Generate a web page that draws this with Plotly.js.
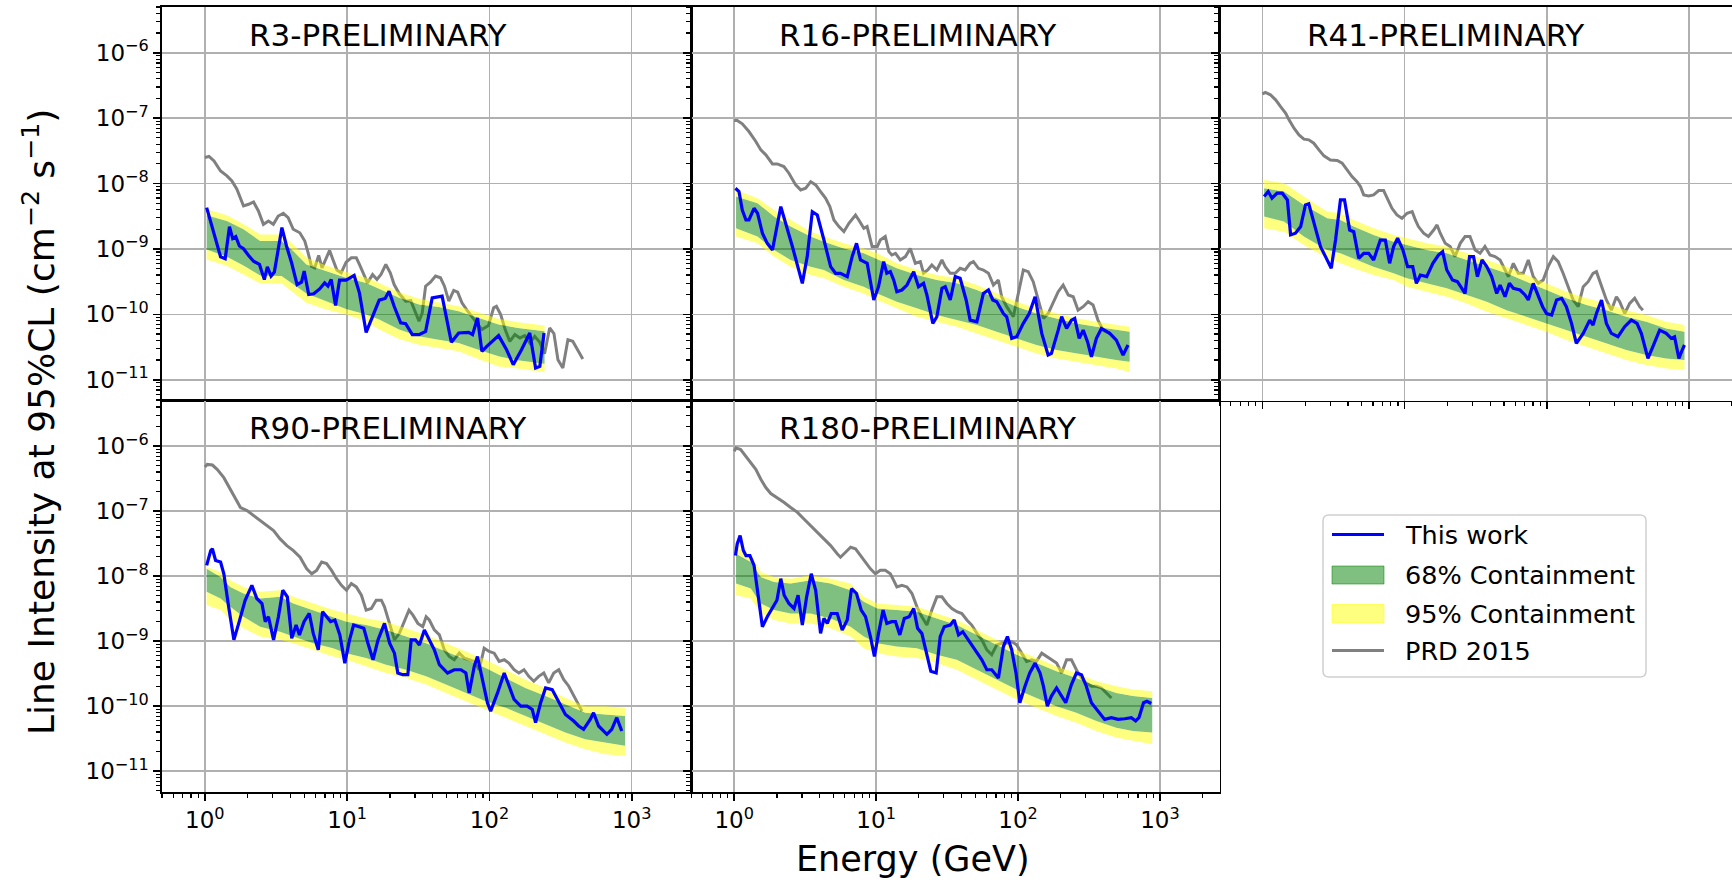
<!DOCTYPE html>
<html>
<head>
<meta charset="utf-8">
<script src="https://cdn.plot.ly/plotly-3.0.1.min.js"></script>
<style>
html,body{margin:0;padding:0;background:#fff;}
#chart{width:1732px;height:880px;}
</style>
</head>
<body>
<div id="chart"></div>
<script>
// ---------------- data ----------------
const panelTitles = ['R3-PRELIMINARY', 'R16-PRELIMINARY', 'R41-PRELIMINARY', 'R90-PRELIMINARY', 'R180-PRELIMINARY'];
const legendLabels = ['This work', '68% Containment', '95% Containment', 'PRD 2015'];
const xTickVals = [1, 10, 100, 1000];
const xTickText = ['10<sup>0</sup>', '10<sup>1</sup>', '10<sup>2</sup>', '10<sup>3</sup>'];
const yTickVals = [1e-11, 1e-10, 1e-9, 1e-8, 1e-7, 1e-6];
const yTickText = ['10<sup>−11</sup>', '10<sup>−10</sup>', '10<sup>−9</sup>', '10<sup>−8</sup>', '10<sup>−7</sup>', '10<sup>−6</sup>'];

// R3
const energyR3 = [1.03,1.29,1.39,1.49,1.57,1.65,1.75,1.87,2.03,2.20,2.42,2.62,2.75,2.92,3.08,3.48,3.75,4.07,4.45,4.78,4.99,5.37,5.82,6.41,6.95,7.33,7.73,8.29,8.84,9.84,11.2,12.2,13.6,15.5,16.8,18.5,19.7,21.4,23.8,25.8,28.7,32.0,35.6,39.6,46.5,54.0,60.8,71.4,76.1,82.5,88.5,95.8,116,132,147,168,192,211,226,242];
const limitR3 = [4.29e-9,7.6e-10,7.1e-10,2.19e-9,1.44e-9,1.54e-9,1.11e-9,1.01e-9,7.96e-10,6.5e-10,5.8e-10,3.4e-10,5.35e-10,3.85e-10,4.43e-10,2.12e-9,1.11e-9,6.15e-10,2.86e-10,3.11e-10,4.58e-10,2.01e-10,2.06e-10,2.45e-10,3.03e-10,2.7e-10,3.41e-10,1.37e-10,3.33e-10,3.33e-10,3.94e-10,2.13e-10,5.3e-11,1.05e-10,1.65e-10,1.75e-10,2.26e-10,1.33e-10,7.4e-11,7.2e-11,4.9e-11,4.9e-11,5.5e-11,1.79e-10,1.9e-10,3.74e-11,5.2e-11,5.3e-11,4.9e-11,8.8e-11,2.72e-11,3.24e-11,4.73e-11,2.88e-11,1.7e-11,2.88e-11,5.2e-11,1.51e-11,1.6e-11,5.2e-11];
const prdEnergyR3 = [1.0,1.07,1.16,1.29,1.43,1.55,1.68,1.87,2.03,2.20,2.38,2.58,2.80,3.03,3.28,3.56,3.85,4.18,4.65,5.04,5.32,5.61,5.92,6.31,6.66,7.02,7.53,7.94,8.47,9.08,9.84,10.7,11.6,12.2,13.0,13.9,15.1,16.2,17.3,18.7,20.1,21.4,23.2,25.8,28.0,30.0,32.0,33.7,35.6,38.5,41.8,45.3,48.3,51.8,56.1,59.8,64.1,69.5,75.3,81.6,88.5,98.4,107,112,120,129,139,151,164,177,192,208,226,244,265,284,303,328,356,385,418,453];
const prdR3 = [2.51e-8,2.6e-8,2.22e-8,1.56e-8,1.31e-8,1.10e-8,8.2e-9,4.55e-9,4.82e-9,5.24e-9,3.81e-9,2.38e-9,2.68e-9,2.38e-9,3.19e-9,3.51e-9,3.01e-9,2.0e-9,1.77e-9,1.32e-9,8.75e-10,5.47e-10,5.15e-10,7.96e-10,5.15e-10,6.53e-10,9.5e-10,6.92e-10,4.75e-10,4.32e-10,6.3e-10,7.34e-10,7.34e-10,5.8e-10,4.22e-10,3.03e-10,4.07e-10,3.41e-10,4.07e-10,5.8e-10,4.32e-10,2.86e-10,2.08e-10,1.59e-10,1.62e-10,1.12e-10,7.85e-11,1.05e-10,2.7e-10,3.11e-10,3.85e-10,3.62e-10,2.7e-10,1.59e-10,2.32e-10,2.18e-10,1.5e-10,1.16e-10,9.15e-11,7.4e-11,5.85e-11,6.73e-11,1.26e-10,1.33e-10,9.9e-11,5.85e-11,3.87e-11,4.9e-11,4.36e-11,4.73e-11,3.66e-11,4.62e-11,3.74e-11,2.51e-11,6.2e-11,5.1e-11,2.03e-11,1.51e-11,4.11e-11,3.87e-11,2.88e-11,2.08e-11];
const bandEnergyR3 = [1.03,1.43,1.87,2.45,3.46,4.18,5.18,7.13,9.84,13.6,16.8,23.2,32.0,44.1,60.8,83.8,116,159,244];
const hi95R3 = [4.04e-9,3.27e-9,2.38e-9,1.67e-9,1.67e-9,1.17e-9,7.34e-10,5.6e-10,4.43e-10,3.62e-10,3.03e-10,2.18e-10,1.73e-10,1.53e-10,1.33e-10,1.08e-10,8.53e-11,7.57e-11,6.73e-11];
const hi68R3 = [3.27e-9,2.68e-9,2.0e-9,1.32e-9,1.32e-9,9.29e-10,5.8e-10,4.58e-10,3.62e-10,3.03e-10,2.45e-10,1.79e-10,1.41e-10,1.30e-10,1.12e-10,8.83e-11,6.98e-11,6.2e-11,5.5e-11];
const lo68R3 = [9.84e-10,7.6e-10,5.6e-10,3.94e-10,3.85e-10,2.86e-10,2.08e-10,1.59e-10,1.21e-10,9.93e-11,8.32e-11,5.85e-11,4.62e-11,4.11e-11,3.66e-11,2.88e-11,2.28e-11,1.98e-11,1.76e-11];
const lo95R3 = [6.92e-10,5.47e-10,4.07e-10,2.96e-10,2.96e-10,2.13e-10,1.5e-10,1.19e-10,9.93e-11,7.85e-11,5.85e-11,4.21e-11,3.44e-11,3.06e-11,2.72e-11,2.08e-11,1.6e-11,1.49e-11,1.3e-11];

// R16
const energyR16 = [1.02,1.08,1.14,1.21,1.27,1.38,1.46,1.58,1.71,1.86,2.13,2.31,2.57,3.02,3.27,3.55,3.85,4.29,4.78,5.18,5.61,6.26,6.78,7.28,7.76,8.65,9.63,10.4,11.3,11.9,12.6,13.3,14.0,15.2,16.5,18.4,19.9,21.6,22.8,25.1,26.8,29.1,30.7,33.3,36.1,39.1,43.1,46.0,51.3,57.0,61.9,66.4,70.8,78.9,83.2,90.3,97.9,109,120,132,147,163,172,192,203,220,238,251,270,288,309,329,357,387,443,493,550,596];
const limitR16 = [8.49e-9,7.55e-9,3.95e-9,2.78e-9,2.78e-9,4.19e-9,3.52e-9,1.74e-9,1.22e-9,9.66e-10,4.45e-9,2.47e-9,1.09e-9,2.98e-10,7.64e-10,3.72e-9,3.31e-9,1.37e-9,5.37e-10,4.25e-10,4.25e-10,3.78e-10,7.64e-10,1.22e-9,6.79e-10,6.04e-10,1.66e-10,2.65e-10,6.4e-10,4.25e-10,4.5e-10,3.36e-10,2.22e-10,2.36e-10,2.81e-10,4.5e-10,2.65e-10,2.98e-10,1.98e-10,7.28e-11,9.2e-11,2.5e-10,2.65e-10,1.66e-10,3.78e-10,3.56e-10,1.66e-10,8.18e-11,7.72e-11,2.09e-10,2.36e-10,1.66e-10,1.56e-10,1.03e-10,9.2e-11,4.3e-11,4.55e-11,7.28e-11,1.03e-10,1.86e-10,5.12e-11,2.39e-11,2.53e-11,5.75e-11,9.2e-11,6.1e-11,8.18e-11,8.69e-11,4.3e-11,5.75e-11,3.82e-11,2.25e-11,4.3e-11,6.1e-11,5.12e-11,4.05e-11,2.39e-11,3.4e-11];
const prdEnergyR16 = [1.0,1.05,1.14,1.27,1.42,1.54,1.67,1.86,2.01,2.24,2.43,2.71,2.94,3.19,3.46,3.75,4.06,4.41,4.72,5.04,5.47,5.93,6.43,7.16,7.55,8.19,8.64,9.37,10.2,10.7,11.6,12.3,12.9,13.7,14.8,16.1,17.4,18.9,20.5,21.6,23.1,24.7,26.8,29.1,30.7,33.3,36.1,39.1,42.4,46.0,48.5,52.6,57.0,61.9,67.1,72.7,76.7,83.2,92.7,100,109,118,128,139,151,163,177,192,208,226,245,265,288,312,338,366,398,443];
const prdR16 = [9.2e-8,9.2e-8,8.19e-8,6.25e-8,4.4e-8,3.27e-8,2.75e-8,2.0e-8,2.0e-8,1.82e-8,1.44e-8,9.55e-9,8.0e-9,8.49e-9,1.07e-8,9.55e-9,7.55e-9,5.97e-9,4.45e-9,2.78e-9,2.2e-9,1.84e-9,2.47e-9,3.31e-9,2.78e-9,2.07e-9,2.2e-9,1.09e-9,1.09e-9,1.37e-9,1.55e-9,9.1e-10,8.09e-10,8.59e-10,6.79e-10,7.64e-10,1.02e-9,6.04e-10,6.4e-10,4.25e-10,4.77e-10,5.69e-10,4.77e-10,6.79e-10,5.37e-10,4.25e-10,4.25e-10,5.06e-10,4.77e-10,6.04e-10,6.4e-10,5.06e-10,4.77e-10,4.25e-10,2.81e-10,3.36e-10,1.86e-10,1.31e-10,9.2e-11,1.98e-10,4.77e-10,4.5e-10,3.16e-10,1.66e-10,8.69e-11,1.03e-10,1.56e-10,2.22e-10,2.81e-10,1.98e-10,1.86e-10,1.16e-10,1.31e-10,1.56e-10,1.39e-10,8.18e-11,5.75e-11,5.12e-11];
const bandEnergyR16 = [1.03,1.46,1.91,2.50,3.46,4.29,5.93,8.19,10.2,14.0,19.4,26.8,37.1,51.3,70.8,97.9,135,187,258,357,493,612];
const hi95R16 = [8.0e-9,5.97e-9,3.95e-9,2.78e-9,1.84e-9,1.55e-9,1.22e-9,1.02e-9,8.59e-10,6.04e-10,4.77e-10,4.0e-10,3.56e-10,2.81e-10,2.09e-10,1.56e-10,1.24e-10,1.03e-10,8.69e-11,7.72e-11,6.87e-11,6.48e-11];
const hi68R16 = [6.32e-9,5.0e-9,3.13e-9,2.2e-9,1.55e-9,1.29e-9,1.02e-9,8.59e-10,6.95e-10,5.06e-10,4.0e-10,3.36e-10,2.98e-10,2.36e-10,1.76e-10,1.31e-10,1.03e-10,8.69e-11,7.28e-11,6.48e-11,5.75e-11,5.43e-11];
const lo68R16 = [2.07e-9,1.55e-9,9.66e-10,6.79e-10,5.37e-10,4.77e-10,3.36e-10,2.65e-10,2.09e-10,1.56e-10,1.24e-10,9.77e-11,8.18e-11,6.87e-11,5.43e-11,4.3e-11,3.4e-11,2.85e-11,2.53e-11,2.25e-11,2.0e-11,1.89e-11];
const lo95R16 = [1.55e-9,1.22e-9,7.64e-10,5.37e-10,4.0e-10,3.56e-10,2.65e-10,2.09e-10,1.66e-10,1.24e-10,9.2e-11,7.72e-11,6.48e-11,5.12e-11,4.05e-11,3.2e-11,2.53e-11,2.12e-11,1.89e-11,1.68e-11,1.49e-11,1.32e-11];

// R41
const energyR41 = [1.03,1.10,1.17,1.27,1.38,1.50,1.58,1.71,1.86,2.01,2.12,2.30,2.56,2.78,3.05,3.27,3.54,3.78,4.11,4.39,4.76,5.16,5.59,6.06,6.75,7.32,7.85,8.37,8.93,9.73,10.5,11.4,12.1,12.9,14.3,15.8,17.3,18.5,19.8,21.7,23.5,24.8,26.6,28.6,30.5,32.5,35.0,37.8,40.9,44.4,46.9,50.8,54.5,58.1,64.7,70.2,74.0,80.2,86.9,93.3,99.5,108,117,127,137,149,161,180,200,211,223,242,262,284,316,352,392,430,461,513,556,620,690,748,789,847,893,927];
const limitR41 = [6.32e-9,7.55e-9,5.97e-9,7.12e-9,7.12e-9,5.62e-9,1.64e-9,1.74e-9,2.2e-9,4.71e-9,4.89e-9,2.47e-9,1.09e-9,7.64e-10,5.06e-10,1.37e-9,5.62e-9,5.62e-9,1.95e-9,1.84e-9,7.2e-10,8.59e-10,8.59e-10,6.79e-10,1.37e-9,1.37e-9,6.04e-10,1.09e-9,1.46e-9,9.66e-10,5.37e-10,5.37e-10,2.98e-10,4.0e-10,3.78e-10,6.04e-10,8.09e-10,9.1e-10,4.77e-10,3.36e-10,3.16e-10,2.65e-10,2.09e-10,7.64e-10,7.64e-10,3.78e-10,6.79e-10,5.37e-10,3.78e-10,2.09e-10,2.81e-10,1.86e-10,2.98e-10,2.5e-10,2.36e-10,1.98e-10,1.66e-10,2.98e-10,1.86e-10,1.31e-10,1.03e-10,9.77e-11,1.66e-10,1.76e-10,1.31e-10,7.28e-11,3.6e-11,5.12e-11,8.18e-11,6.87e-11,1.03e-10,1.66e-10,7.28e-11,5.12e-11,4.55e-11,6.48e-11,8.18e-11,7.28e-11,5.12e-11,2.12e-11,3.2e-11,5.75e-11,5.12e-11,4.3e-11,4.55e-11,2.12e-11,2.85e-11,3.4e-11];
const prdEnergyR41 = [1.0,1.05,1.14,1.24,1.34,1.46,1.54,1.67,1.81,1.96,2.12,2.30,2.50,2.71,3.01,3.36,3.64,3.94,4.27,4.63,4.89,5.16,5.59,6.06,6.57,7.12,7.52,8.15,8.83,9.58,10.4,11.3,11.9,12.5,13.6,14.7,16.0,16.9,17.8,19.3,20.9,22.6,24.6,26.6,28.8,31.3,33.9,36.7,39.8,43.2,46.9,50.8,53.6,58.1,62.9,68.2,74.0,80.2,86.9,94.2,102,111,120,130,141,153,166,180,195,211,223,242,262,284,308,325,352,382,414,449,473];
const prdR41 = [2.36e-7,2.47e-7,2.28e-7,1.91e-7,1.51e-7,1.19e-7,9.42e-8,7.03e-8,5.56e-8,4.78e-8,4.66e-8,4.14e-8,3.27e-8,2.65e-8,2.3e-8,2.25e-8,2.05e-8,1.62e-8,1.28e-8,1.07e-8,9.0e-9,6.71e-9,6.48e-9,6.71e-9,7.82e-9,7.82e-9,5.97e-9,4.19e-9,3.31e-9,2.94e-9,3.52e-9,3.72e-9,2.78e-9,2.2e-9,1.74e-9,1.55e-9,1.95e-9,2.33e-9,1.74e-9,1.22e-9,1.09e-9,7.64e-10,1.22e-9,1.55e-9,1.55e-9,9.66e-10,8.59e-10,1.09e-9,8.09e-10,7.64e-10,6.79e-10,4.77e-10,3.78e-10,6.04e-10,4.25e-10,4.25e-10,6.79e-10,3.78e-10,2.98e-10,3.36e-10,5.37e-10,7.64e-10,6.4e-10,4.25e-10,2.65e-10,1.66e-10,1.31e-10,2.65e-10,3.16e-10,4.25e-10,4.5e-10,2.65e-10,1.66e-10,1.16e-10,1.86e-10,1.56e-10,1.03e-10,1.47e-10,1.76e-10,1.31e-10,1.16e-10];
const bandEnergyR41 = [1.03,1.42,1.96,2.86,3.54,4.39,6.06,8.37,10.4,14.3,19.8,27.4,37.8,52.1,72.0,99.5,137,190,262,362,500,690,927];
const hi95R41 = [1.14e-8,1.01e-8,6.32e-9,3.72e-9,3.52e-9,2.78e-9,2.07e-9,1.64e-9,1.46e-9,1.22e-9,1.09e-9,8.59e-10,6.79e-10,5.37e-10,4.0e-10,2.98e-10,2.22e-10,1.76e-10,1.47e-10,1.16e-10,9.77e-11,7.72e-11,6.87e-11];
const hi68R41 = [8.49e-9,7.55e-9,4.71e-9,2.94e-9,2.78e-9,2.2e-9,1.64e-9,1.29e-9,1.15e-9,9.66e-10,8.59e-10,6.79e-10,5.37e-10,4.25e-10,3.16e-10,2.36e-10,1.76e-10,1.39e-10,1.16e-10,9.2e-11,7.72e-11,6.1e-11,5.43e-11];
const lo68R41 = [3.13e-9,2.62e-9,1.55e-9,9.66e-10,8.59e-10,7.2e-10,5.37e-10,4.25e-10,3.56e-10,2.98e-10,2.5e-10,1.98e-10,1.56e-10,1.16e-10,9.2e-11,7.28e-11,5.75e-11,4.55e-11,3.6e-11,2.85e-11,2.39e-11,2.12e-11,2.0e-11];
const lo95R41 = [2.07e-9,1.84e-9,1.15e-9,7.2e-10,6.04e-10,5.06e-10,4.0e-10,3.36e-10,2.65e-10,2.22e-10,1.86e-10,1.47e-10,1.1e-10,8.69e-11,6.87e-11,5.43e-11,4.05e-11,3.2e-11,2.53e-11,2.0e-11,1.68e-11,1.49e-11,1.41e-11];

// R90
const energyR90 = [1.03,1.10,1.13,1.19,1.29,1.36,1.47,1.60,1.73,1.92,2.14,2.32,2.52,2.66,2.80,3.04,3.29,3.53,3.80,4.08,4.38,4.62,4.98,5.42,5.78,6.27,6.72,7.17,7.65,8.20,8.89,9.63,10.4,11.1,12.3,13.1,14.0,15.2,16.5,18.3,19.9,21.5,22.7,24.6,26.7,28.2,30.2,32.2,34.9,37.8,41.0,44.5,50.8,56.6,63.0,68.3,72.1,78.2,82.4,89.3,96.8,102,114,127,137,149,166,184,200,211,229,248,276,307,342,391,424,459,511,539,585,669,724,785,851];
const limitR90 = [1.47e-8,2.48e-8,2.64e-8,1.75e-8,1.65e-8,1.09e-8,3.38e-9,1.05e-9,1.88e-9,4.27e-9,7.24e-9,4.54e-9,3.8e-9,2.0e-9,2.38e-9,1.05e-9,2.38e-9,6.08e-9,4.81e-9,1.11e-9,1.77e-9,1.25e-9,2.0e-9,2.67e-9,1.32e-9,7.36e-10,2.84e-9,2.38e-9,2.0e-9,2.12e-9,1.25e-9,4.6e-10,1.05e-9,1.77e-9,1.67e-9,1.58e-9,9.31e-10,5.18e-10,1.05e-9,1.88e-9,9.31e-10,6.55e-10,3.24e-10,3.05e-10,3.05e-10,1.05e-9,1.05e-9,8.77e-10,1.49e-9,1.05e-9,7.36e-10,4.35e-10,3.24e-10,3.64e-10,3.64e-10,3.24e-10,1.6e-10,4.09e-10,5.82e-10,2.56e-10,1.13e-10,8.41e-11,1.6e-10,3.24e-10,2.03e-10,1.27e-10,1.0e-10,1.0e-10,8.91e-11,5.57e-11,1.13e-10,1.91e-10,1.8e-10,1.13e-10,7.48e-11,5.92e-11,4.96e-11,4.41e-11,6.27e-11,7.92e-11,4.96e-11,3.7e-11,4.41e-11,6.65e-11,4.16e-11];
const prdEnergyR90 = [1.0,1.04,1.13,1.22,1.36,1.51,1.64,1.78,1.98,2.20,2.45,2.73,3.04,3.38,3.77,4.19,4.67,5.20,5.64,6.10,6.62,7.17,7.77,8.42,9.12,9.89,10.7,11.6,12.6,13.6,14.8,16.0,17.4,18.3,19.9,21.5,23.3,25.3,27.2,29.0,31.4,34.0,35.9,37.8,41.0,44.5,48.2,52.2,56.6,61.4,66.5,72.1,78.2,84.7,91.8,99.5,108,117,127,137,149,161,175,189,205,222,241,261,283,307,333,361,391,424,447];
const prdR90 = [4.78e-7,5.25e-7,5.13e-7,4.4e-7,3.28e-7,2.18e-7,1.53e-7,1.14e-7,1.02e-7,8.52e-8,7.14e-8,5.98e-8,5.02e-8,3.75e-8,2.96e-8,2.48e-8,1.96e-8,1.3e-8,1.09e-8,1.23e-8,1.65e-8,1.56e-8,1.23e-8,9.16e-9,7.24e-9,6.08e-9,7.69e-9,6.84e-9,5.1e-9,3.01e-9,3.19e-9,4.27e-9,4.27e-9,3.38e-9,1.77e-9,1.05e-9,1.32e-9,2.12e-9,3.01e-9,2.52e-9,1.88e-9,1.67e-9,2.38e-9,2.12e-9,1.49e-9,1.25e-9,7.36e-10,5.82e-10,5.18e-10,6.55e-10,5.5e-10,5.18e-10,4.89e-10,3.64e-10,7.8e-10,6.95e-10,6.55e-10,4.89e-10,5.18e-10,4.6e-10,3.64e-10,3.24e-10,3.64e-10,2.88e-10,2.42e-10,2.88e-10,3.24e-10,2.28e-10,3.24e-10,3.64e-10,2.56e-10,2.03e-10,1.43e-10,1.0e-10,8.41e-11];
const bandEnergyR90 = [1.03,1.29,1.51,1.87,2.45,3.38,4.19,5.78,7.98,9.89,13.6,18.8,26.0,35.9,49.5,68.3,94.2,130,179,248,342,472,651,898];
const hi95R90 = [1.38e-8,1.16e-8,8.65e-9,6.84e-9,5.74e-9,6.08e-9,4.81e-9,3.8e-9,3.01e-9,2.67e-9,2.24e-9,2.0e-9,1.58e-9,1.25e-9,9.31e-10,6.95e-10,5.18e-10,3.64e-10,2.56e-10,1.91e-10,1.34e-10,1.0e-10,1.0e-10,9.46e-11];
const hi68R90 = [1.3e-8,9.72e-9,6.84e-9,5.41e-9,4.54e-9,4.81e-9,3.8e-9,3.01e-9,2.38e-9,2.0e-9,1.77e-9,1.49e-9,1.18e-9,9.31e-10,6.95e-10,5.18e-10,3.86e-10,2.72e-10,1.91e-10,1.43e-10,1.06e-10,7.92e-11,7.48e-11,7.05e-11];
const lo68R90 = [5.74e-9,4.54e-9,3.38e-9,2.38e-9,1.67e-9,1.4e-9,1.18e-9,9.31e-10,7.8e-10,6.55e-10,5.5e-10,4.35e-10,3.64e-10,2.88e-10,2.15e-10,1.6e-10,1.19e-10,9.46e-11,7.05e-11,5.26e-11,3.93e-11,3.1e-11,2.76e-11,2.46e-11];
const lo95R90 = [3.59e-9,3.01e-9,2.12e-9,1.58e-9,1.18e-9,1.05e-9,9.31e-10,7.36e-10,5.82e-10,5.18e-10,4.09e-10,3.24e-10,2.72e-10,2.15e-10,1.6e-10,1.19e-10,8.91e-11,6.65e-11,4.96e-11,3.7e-11,2.76e-11,2.18e-11,1.83e-11,1.73e-11];

// R180
const energyR180 = [1.02,1.05,1.10,1.16,1.21,1.29,1.38,1.46,1.58,1.71,1.86,2.00,2.13,2.25,2.43,2.64,2.82,3.02,3.24,3.49,3.75,4.06,4.29,4.53,4.83,5.32,5.77,6.26,6.71,7.28,7.85,8.42,9.12,9.73,10.4,11.2,11.9,12.9,13.7,14.7,15.8,17.1,18.4,19.6,21.0,22.8,24.3,26.5,28.3,30.2,33.3,35.5,38.1,40.8,44.8,49.9,55.6,60.3,65.3,72.8,78.9,84.2,90.3,96.8,103,112,121,132,143,151,161,172,187,203,217,238,258,280,303,329,366,408,455,507,565,629,675,712,767,810,869];
const limitR180 = [2.08e-8,3.14e-8,4.21e-8,2.48e-8,2.08e-8,2.08e-8,1.47e-8,5.41e-9,1.67e-9,2.38e-9,3.19e-9,4.27e-9,9.16e-9,5.1e-9,3.8e-9,3.19e-9,5.1e-9,1.77e-9,4.81e-9,1.09e-8,6.08e-9,1.32e-9,2.24e-9,1.88e-9,2.67e-9,2.67e-9,1.49e-9,2.12e-9,6.44e-9,5.41e-9,3.01e-9,2.38e-9,1.18e-9,5.82e-10,1.32e-9,3.01e-9,1.88e-9,2.0e-9,2.0e-9,1.25e-9,2.24e-9,2.38e-9,3.19e-9,1.58e-9,1.32e-9,6.55e-10,3.44e-10,3.24e-10,1.18e-9,1.67e-9,1.77e-9,2.12e-9,1.25e-9,1.4e-9,1.05e-9,7.36e-10,5.18e-10,3.64e-10,3.64e-10,2.72e-10,8.28e-10,1.18e-9,7.36e-10,3.24e-10,1.13e-10,2.03e-10,3.24e-10,4.6e-10,3.24e-10,2.03e-10,1.0e-10,1.43e-10,1.91e-10,1.43e-10,1.13e-10,2.15e-10,3.24e-10,3.05e-10,2.03e-10,1.13e-10,8.41e-11,6.27e-11,6.65e-11,6.27e-11,6.41e-11,6.65e-11,5.92e-11,6.65e-11,1.13e-10,1.19e-10,1.1e-10];
const prdEnergyR180 = [1.0,1.03,1.11,1.21,1.31,1.42,1.54,1.67,1.81,2.01,2.25,2.50,2.79,3.10,3.46,3.85,4.29,4.78,5.32,5.61,6.09,6.61,7.16,7.76,8.41,9.12,9.89,10.7,11.6,12.6,13.3,14.0,15.2,16.5,17.9,19.4,21.0,22.8,24.7,26.8,29.1,31.5,34.2,37.1,40.2,43.6,47.2,51.3,55.6,60.3,65.3,70.8,76.7,83.2,90.3,97.9,106,115,125,135,147,159,172,187,203,220,238,258,280,303,329,357,387,420,455];
const prdR180 = [8.39e-7,9.44e-7,8.89e-7,7.03e-7,5.56e-7,4.4e-7,3.1e-7,2.31e-7,1.87e-7,1.62e-7,1.36e-7,1.14e-7,9.58e-8,7.57e-8,5.98e-8,4.73e-8,3.75e-8,2.96e-8,2.21e-8,1.96e-8,2.34e-8,2.79e-8,2.64e-8,2.08e-8,1.65e-8,1.3e-8,1.09e-8,1.23e-8,1.23e-8,1.09e-8,8.65e-9,6.84e-9,7.24e-9,6.84e-9,5.41e-9,3.38e-9,2.38e-9,1.77e-9,3.01e-9,4.81e-9,4.81e-9,3.8e-9,3.19e-9,2.84e-9,2.67e-9,2.12e-9,1.77e-9,1.32e-9,1.05e-9,7.36e-10,6.18e-10,8.77e-10,9.31e-10,9.31e-10,9.86e-10,8.77e-10,6.55e-10,4.89e-10,5.18e-10,4.89e-10,6.55e-10,5.82e-10,5.18e-10,4.6e-10,3.24e-10,5.18e-10,5.18e-10,3.64e-10,2.72e-10,2.28e-10,2.03e-10,2.03e-10,1.91e-10,1.6e-10,1.34e-10];
const bandEnergyR180 = [1.03,1.31,1.54,1.91,2.50,3.46,4.78,6.61,8.19,10.2,14.0,19.4,26.8,37.1,51.3,70.8,97.9,135,187,258,357,493,646,883];
const hi95R180 = [2.79e-8,2.21e-8,1.16e-8,9.72e-9,9.16e-9,1.03e-8,9.16e-9,7.69e-9,4.81e-9,3.8e-9,3.59e-9,3.38e-9,2.67e-9,2.12e-9,1.49e-9,1.05e-9,7.36e-10,5.5e-10,4.09e-10,3.24e-10,2.42e-10,2.03e-10,1.8e-10,1.7e-10];
const hi68R180 = [2.21e-8,1.65e-8,9.72e-9,8.15e-9,7.69e-9,8.65e-9,7.69e-9,6.08e-9,4.03e-9,3.19e-9,3.01e-9,2.84e-9,2.24e-9,1.77e-9,1.25e-9,8.77e-10,6.18e-10,4.6e-10,3.44e-10,2.72e-10,2.03e-10,1.6e-10,1.43e-10,1.34e-10];
const lo68R180 = [7.69e-9,6.44e-9,3.8e-9,3.01e-9,2.67e-9,2.67e-9,2.24e-9,1.67e-9,1.18e-9,9.31e-10,8.28e-10,7.8e-10,6.18e-10,5.18e-10,3.64e-10,2.56e-10,1.8e-10,1.34e-10,1.0e-10,7.92e-11,5.92e-11,4.68e-11,4.16e-11,3.93e-11];
const lo95R180 = [5.1e-9,4.54e-9,2.67e-9,2.12e-9,1.88e-9,1.88e-9,1.58e-9,1.18e-9,7.8e-10,6.55e-10,5.82e-10,5.5e-10,4.6e-10,3.64e-10,2.56e-10,1.8e-10,1.27e-10,9.46e-11,7.05e-11,5.57e-11,4.16e-11,3.29e-11,2.92e-11,2.6e-11];

// ---------------- layout / styling ----------------
const W = 1732, H = 880;
const M = {l: 162, r: 0, t: 7, b: 88};
const PW = W - M.l - M.r, PH = H - M.t - M.b;
const px = v => (v - M.l) / PW;          // pixel x -> paper x
const py = v => (H - M.b - v) / PH;      // pixel y -> paper y

const FONT = 'DejaVu Sans';
const BLUE = '#0000ff', GRAY = '#808080';
const GREEN = 'rgba(0,128,0,0.5)', YELLOW = 'rgba(255,255,0,0.5)';

const colEdges = [px(162), px(691.5), px(1219.5), 1];
const rowSplit = py(400.7);
const xRangeFull = [Math.log10(0.5), 3.42];
const xRangeCut = [Math.log10(0.5), 3.301];
const yRange = [-11.32, -5.30];

const xMinor = [], yMinor = [];
for (let d = -1; d <= 3; d++) for (let m = 2; m <= 9; m++) xMinor.push(m * Math.pow(10, d));
for (let d = -12; d <= -5; d++) for (let m = 2; m <= 9; m++) yMinor.push(m * Math.pow(10, d));

const panels = [
  {E: energyR3,  L: limitR3,  pE: prdEnergyR3,  p: prdR3,  bE: bandEnergyR3,  lo95: lo95R3,  lo68: lo68R3,  hi68: hi68R3,  hi95: hi95R3,  col: 0, row: 0},
  {E: energyR16, L: limitR16, pE: prdEnergyR16, p: prdR16, bE: bandEnergyR16, lo95: lo95R16, lo68: lo68R16, hi68: hi68R16, hi95: hi95R16, col: 1, row: 0},
  {E: energyR41, L: limitR41, pE: prdEnergyR41, p: prdR41, bE: bandEnergyR41, lo95: lo95R41, lo68: lo68R41, hi68: hi68R41, hi95: hi95R41, col: 2, row: 0},
  {E: energyR90, L: limitR90, pE: prdEnergyR90, p: prdR90, bE: bandEnergyR90, lo95: lo95R90, lo68: lo68R90, hi68: hi68R90, hi95: hi95R90, col: 0, row: 1},
  {E: energyR180,L: limitR180,pE: prdEnergyR180,p: prdR180,bE: bandEnergyR180,lo95: lo95R180,lo68: lo68R180,hi68: hi68R180,hi95: hi95R180,col: 1, row: 1}
];

const traces = [];
const layout = {
  width: W, height: H, margin: M,
  paper_bgcolor: '#fff', plot_bgcolor: '#fff',
  font: {family: FONT, color: '#000'},
  showlegend: false,
  annotations: [], shapes: []
};

const axisBase = {
  type: 'log', showline: true, linecolor: '#000', linewidth: 1.6,
  showgrid: true, gridcolor: '#b0b0b0', gridwidth: 1.5, zeroline: false,
  tickfont: {family: FONT, size: 23, color: '#000'},
  tickcolor: '#000', tickwidth: 1.6, ticklen: 7, tickmode: 'array'
};

panels.forEach((p, i) => {
  const n = i + 1;
  const xa = 'x' + (n === 1 ? '' : n), ya = 'y' + (n === 1 ? '' : n);
  const base = {xaxis: xa, yaxis: ya, mode: 'lines', showlegend: false, hoverinfo: 'skip'};
  traces.push({...base, name: legendLabels[3], x: p.pE, y: p.p, line: {color: GRAY, width: 3}});
  traces.push({...base, name: '95% lower edge', x: p.bE, y: p.lo95, line: {width: 0}});
  traces.push({...base, name: legendLabels[2], x: p.bE, y: p.lo68, line: {width: 0}, fill: 'tonexty', fillcolor: YELLOW});
  traces.push({...base, name: legendLabels[1], x: p.bE, y: p.hi68, line: {width: 0}, fill: 'tonexty', fillcolor: GREEN});
  traces.push({...base, name: legendLabels[2], x: p.bE, y: p.hi95, line: {width: 0}, fill: 'tonexty', fillcolor: YELLOW});
  traces.push({...base, name: legendLabels[0], x: p.E, y: p.L, line: {color: BLUE, width: 3.2}});

  const bottomRow = (p.row === 1) || (p.col === 2);
  const xdom = [colEdges[p.col], colEdges[p.col + 1]];
  const ydom = p.row === 0 ? [rowSplit, 1] : [0, rowSplit];
  layout['xaxis' + (n === 1 ? '' : n)] = {
    ...axisBase, domain: xdom, anchor: ya, mirror: true,
    range: p.col === 2 ? xRangeCut : xRangeFull,
    tickvals: xTickVals, ticktext: xTickText,
    ticks: bottomRow ? 'outside' : '',
    showticklabels: p.row === 1,
    minor: bottomRow ? {ticks: 'outside', ticklen: 4, tickwidth: 1.2, tickcolor: '#000', tickmode: 'array', tickvals: xMinor, showgrid: false}
                     : {ticks: '', showgrid: false}
  };
  layout['yaxis' + (n === 1 ? '' : n)] = {
    ...axisBase, domain: ydom, anchor: xa, mirror: p.col !== 2,
    range: yRange, tickvals: yTickVals, ticktext: yTickText,
    ticks: 'outside', showticklabels: p.col === 0,
    minor: {ticks: 'outside', ticklen: 4, tickwidth: 1.2, tickcolor: '#000', tickmode: 'array', tickvals: yMinor, showgrid: false}
  };
  const panelWidthPx = (xdom[1] - xdom[0]) * PW;
  const panelHeightPx = (ydom[1] - ydom[0]) * PH;
  layout.annotations.push({
    xref: xa + ' domain', yref: ya + ' domain', x: 85 / panelWidthPx, y: 1 - 27.5 / panelHeightPx,
    xanchor: 'left', yanchor: 'middle', showarrow: false,
    text: panelTitles[i], font: {family: FONT, size: 31, color: '#000'}
  });
});

// axis titles
layout.annotations.push({
  xref: 'paper', yref: 'paper', x: px(913), y: py(859), xanchor: 'center', yanchor: 'middle',
  showarrow: false, text: 'Energy (GeV)', font: {family: FONT, size: 35, color: '#000'}
});
layout.annotations.push({
  xref: 'paper', yref: 'paper', x: px(39), y: py(422), xanchor: 'center', yanchor: 'middle',
  showarrow: false, textangle: -90,
  text: 'Line Intensity at 95%CL (cm<sup>−2</sup> s<sup>−1</sup>)', font: {family: FONT, size: 36, color: '#000'}
});

// legend (drawn in the empty bottom-right cell)
const LB = {x0: 1323, y0: 515, x1: 1646, y1: 677, r: 6};
const P = (x, y) => px(x) + ',' + py(y);
layout.shapes.push({
  type: 'path', xref: 'paper', yref: 'paper',
  path: 'M' + P(LB.x0 + LB.r, LB.y0) + ' L' + P(LB.x1 - LB.r, LB.y0) + ' Q' + P(LB.x1, LB.y0) + ' ' + P(LB.x1, LB.y0 + LB.r) +
        ' L' + P(LB.x1, LB.y1 - LB.r) + ' Q' + P(LB.x1, LB.y1) + ' ' + P(LB.x1 - LB.r, LB.y1) +
        ' L' + P(LB.x0 + LB.r, LB.y1) + ' Q' + P(LB.x0, LB.y1) + ' ' + P(LB.x0, LB.y1 - LB.r) +
        ' L' + P(LB.x0, LB.y0 + LB.r) + ' Q' + P(LB.x0, LB.y0) + ' ' + P(LB.x0 + LB.r, LB.y0) + ' Z',
  fillcolor: 'rgba(255,255,255,0.8)', line: {color: '#d0d0d0', width: 1.5}, layer: 'above'
});
const symX0 = 1332, symX1 = 1384, textX = 1403;
const rowY = [534.5, 575, 613.5, 650.5];
layout.shapes.push({type: 'line', xref: 'paper', yref: 'paper', x0: px(symX0), x1: px(symX1), y0: py(rowY[0]), y1: py(rowY[0]), line: {color: BLUE, width: 3}, layer: 'above'});
layout.shapes.push({type: 'rect', xref: 'paper', yref: 'paper', x0: px(symX0), x1: px(symX1), y0: py(rowY[1] - 9), y1: py(rowY[1] + 9), fillcolor: GREEN, line: {color: GREEN, width: 1}, layer: 'above'});
layout.shapes.push({type: 'rect', xref: 'paper', yref: 'paper', x0: px(symX0), x1: px(symX1), y0: py(rowY[2] - 9), y1: py(rowY[2] + 9), fillcolor: YELLOW, line: {color: YELLOW, width: 1}, layer: 'above'});
layout.shapes.push({type: 'line', xref: 'paper', yref: 'paper', x0: px(symX0), x1: px(symX1), y0: py(rowY[3]), y1: py(rowY[3]), line: {color: GRAY, width: 3}, layer: 'above'});
legendLabels.forEach((lab, k) => {
  layout.annotations.push({
    xref: 'paper', yref: 'paper', x: px(textX), y: py(rowY[k]), xanchor: 'left', yanchor: 'middle',
    showarrow: false, text: lab, font: {family: FONT, size: 25.5, color: '#000'}
  });
});

Plotly.newPlot('chart', traces, layout, {displayModeBar: false, staticPlot: true});
</script>
</body>
</html>
